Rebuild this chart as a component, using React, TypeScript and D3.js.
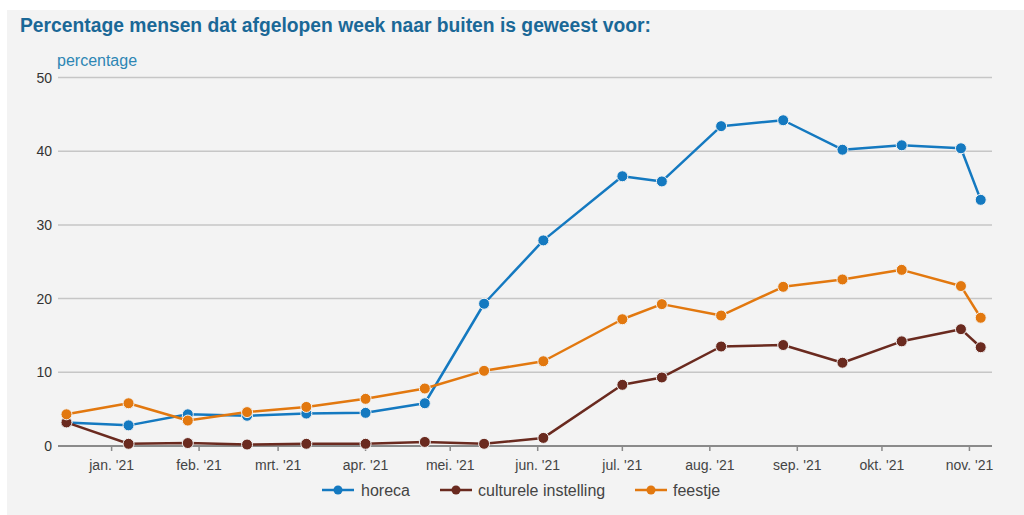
import React from 'react';
import * as d3 from 'd3';

// meetmomenten (ongeveer elke 3 weken)
const dates = [
  '2020-12-16', '2021-01-07', '2021-01-28', '2021-02-18', '2021-03-11', '2021-04-01',
  '2021-04-22', '2021-05-13', '2021-06-03', '2021-07-01', '2021-07-15', '2021-08-05',
  '2021-08-27', '2021-09-17', '2021-10-08', '2021-10-29', '2021-11-05',
];

const horeca = [3.2, 2.8, 4.3, 4.1, 4.4, 4.5, 5.8, 19.3, 27.9, 36.6, 35.9, 43.4, 44.2, 40.2, 40.8, 40.4, 33.4];
const culturele = [3.2, 0.3, 0.4, 0.2, 0.3, 0.3, 0.55, 0.3, 1.1, 8.3, 9.3, 13.5, 13.7, 11.3, 14.2, 15.85, 13.4];
const feestje = [4.3, 5.8, 3.45, 4.6, 5.3, 6.4, 7.8, 10.2, 11.5, 17.2, 19.25, 17.7, 21.6, 22.6, 23.9, 21.7, 17.4];

const yTicks = [0, 10, 20, 30, 40, 50];
const monthLabels = ['jan.', 'feb.', 'mrt.', 'apr.', 'mei.', 'jun.', 'jul.', 'aug.', 'sep.', 'okt.', 'nov.'];

const seriesList = [
  { name: 'horeca', values: horeca, color: '#1479c0' },
  { name: 'culturele instelling', values: culturele, color: '#6a2a1f' },
  { name: 'feestje', values: feestje, color: '#e2780f' },
];

const W = 1024;
const H = 515;
const font = '"Liberation Sans", Arial, sans-serif';

export default function App() {
  const parse = d3.timeParse('%Y-%m-%d');
  const xDates = dates.map((d) => parse(d) as Date);

  // schalen
  const x = d3.scaleTime()
    .domain([new Date(2020, 11, 13), new Date(2021, 10, 9)])
    .range([58, 992]);
  const y = d3.scaleLinear().domain([0, 50]).range([446, 77.5]);

  const monthTicks = d3.timeMonth.range(new Date(2021, 0, 1), new Date(2021, 10, 2));

  const line = d3.line<number>()
    .x((_, i) => x(xDates[i]))
    .y((v) => y(v));

  // legenda posities
  const legend = [
    { sx: 322, tx: 361 },
    { sx: 440, tx: 478 },
    { sx: 635, tx: 673 },
  ];

  return (
    <svg width={W} height={H} style={{ position: 'absolute', left: 0, top: 0, display: 'block' }}>
      <rect x={0} y={0} width={W} height={H} fill="#ffffff" />
      <rect x={7} y={10} width={W - 7} height={H - 10} fill="#f3f3f3" />

      <text x={20} y={32} fontFamily={font} fontWeight="bold" fontSize={19.5} fill="#1a6897"
        textLength={631} lengthAdjust="spacingAndGlyphs">
        Percentage mensen dat afgelopen week naar buiten is geweest voor:
      </text>
      <text x={57} y={66} fontFamily={font} fontSize={16} fill="#2d86b4">percentage</text>

      {/* rasterlijnen */}
      {yTicks.map((t) => (
        <g key={t}>
          {t > 0 && (
            <line x1={58} x2={992} y1={y(t)} y2={y(t)} stroke="#c6c6c6" strokeWidth={1.5} />
          )}
          <text x={52} y={y(t) + 5} textAnchor="end" fontFamily={font} fontSize={14} fill="#333">
            {t}
          </text>
        </g>
      ))}

      {/* x-as */}
      <line x1={58} x2={992} y1={y(0)} y2={y(0)} stroke="#8a8a8a" strokeWidth={2} />
      {monthTicks.map((m, i) => (
        <g key={i}>
          <line x1={x(m)} x2={x(m)} y1={y(0)} y2={y(0) + 5} stroke="#8a8a8a" strokeWidth={1.5} />
          <text x={x(m)} y={470} textAnchor="middle" fontFamily={font} fontSize={14} fill="#444">
            {monthLabels[i]} '21
          </text>
        </g>
      ))}

      {/* lijnen */}
      {seriesList.map((s) => (
        <g key={s.name}>
          <path d={line(s.values) || ''} fill="none" stroke={s.color} strokeWidth={2.5} strokeLinejoin="round" />
          {s.values.map((v, i) => (
            <circle key={i} cx={x(xDates[i])} cy={y(v)} r={5.5} fill={s.color} stroke="#f3f3f3" strokeWidth={1} />
          ))}
        </g>
      ))}

      {/* legenda */}
      {seriesList.map((s, i) => (
        <g key={s.name}>
          <line x1={legend[i].sx} x2={legend[i].sx + 32} y1={490} y2={490} stroke={s.color} strokeWidth={2.5} />
          <circle cx={legend[i].sx + 16} cy={490} r={4.5} fill={s.color} />
          <text x={legend[i].tx} y={495.5} fontFamily={font} fontSize={16} fill="#444">{s.name}</text>
        </g>
      ))}
    </svg>
  );
}
